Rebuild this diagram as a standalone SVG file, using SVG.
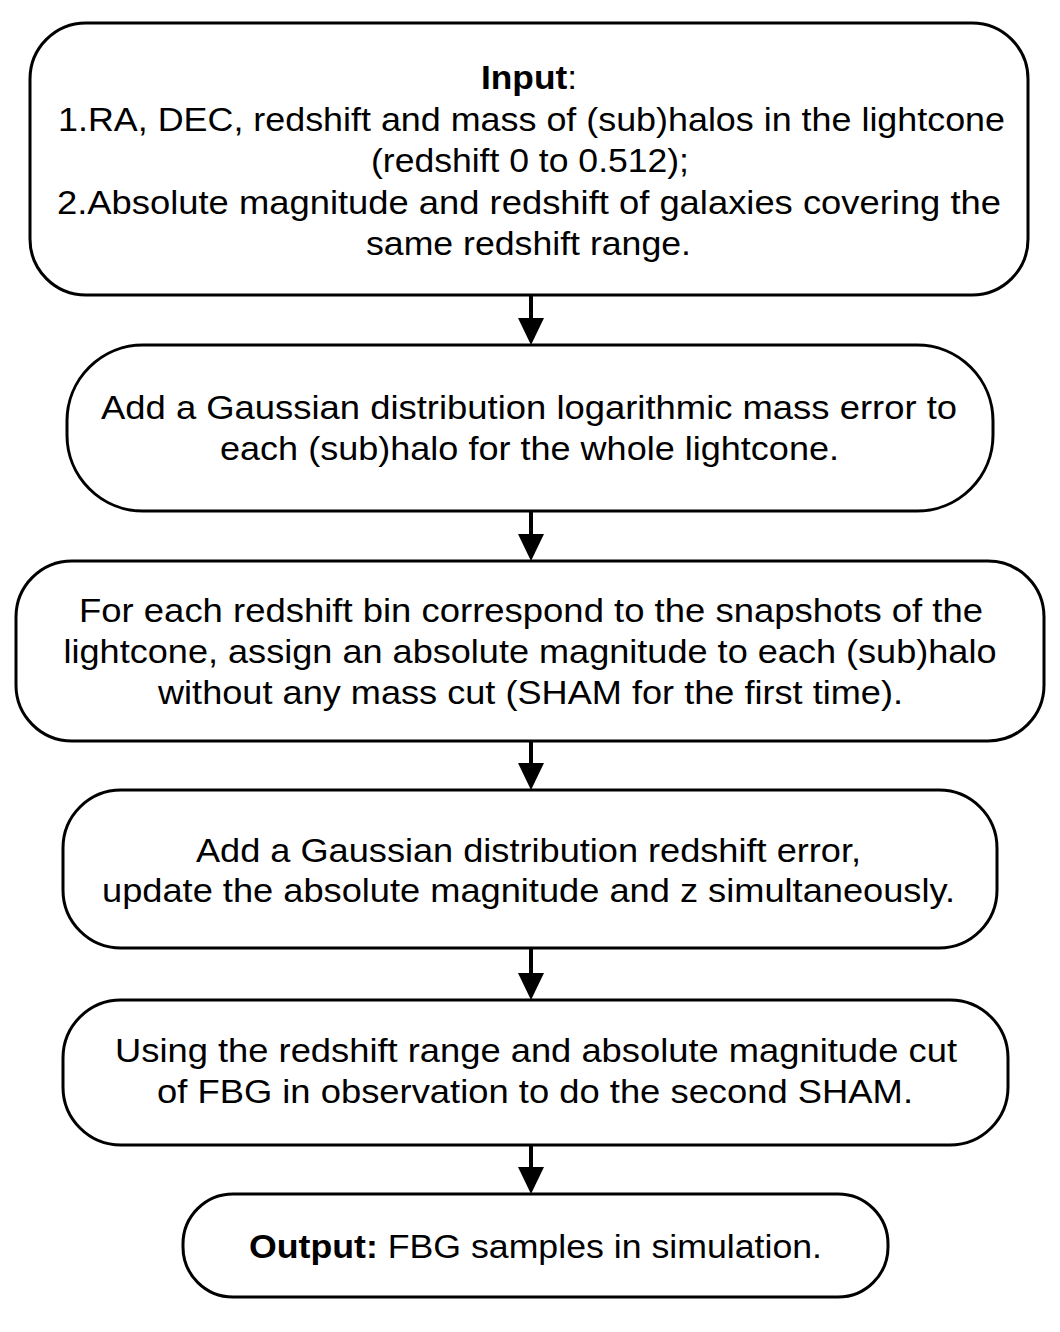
<svg xmlns="http://www.w3.org/2000/svg" width="1060" height="1332" viewBox="0 0 1060 1332">
  <defs>
    <style>
      .box { fill: #ffffff; stroke: #000000; stroke-width: 3; }
      .t { font-family: "Liberation Sans", Arial, Helvetica, sans-serif; font-size: 33px; fill: #000000; text-anchor: middle; }
      .b { font-weight: bold; }
      .conn { stroke: #000000; stroke-width: 4; fill: none; }
      .head { fill: #000000; stroke: none; }
    </style>
  </defs>
  <rect x="0" y="0" width="1060" height="1332" fill="#ffffff"/>

  <g id="n1">
    <rect class="box" x="30" y="23" width="998" height="272" rx="56" ry="56"/>
    <text class="t" x="529" y="89" textLength="96" lengthAdjust="spacingAndGlyphs"><tspan class="b">Input</tspan>:</text>
    <text class="t" x="531.5" y="131" textLength="947" lengthAdjust="spacingAndGlyphs">1.RA, DEC, redshift and mass of (sub)halos in the lightcone</text>
    <text class="t" x="530" y="172" textLength="318" lengthAdjust="spacingAndGlyphs">(redshift 0 to 0.512);</text>
    <text class="t" x="529" y="214" textLength="944" lengthAdjust="spacingAndGlyphs">2.Absolute magnitude and redshift of galaxies covering the</text>
    <text class="t" x="528.5" y="255" textLength="325" lengthAdjust="spacingAndGlyphs">same redshift range.</text>
  </g>

  <g id="n2">
    <rect class="box" x="67" y="345" width="926" height="166" rx="76" ry="76"/>
    <text class="t" x="529" y="419" textLength="856" lengthAdjust="spacingAndGlyphs">Add a Gaussian distribution logarithmic mass error to</text>
    <text class="t" x="529.5" y="460" textLength="619" lengthAdjust="spacingAndGlyphs">each (sub)halo for the whole lightcone.</text>
  </g>

  <g id="n3">
    <rect class="box" x="16" y="561" width="1028" height="180" rx="56" ry="56"/>
    <text class="t" x="531" y="622" textLength="904" lengthAdjust="spacingAndGlyphs">For each redshift bin correspond to the snapshots of the</text>
    <text class="t" x="530" y="663" textLength="933" lengthAdjust="spacingAndGlyphs">lightcone, assign an absolute magnitude to each (sub)halo</text>
    <text class="t" x="530.5" y="704" textLength="745" lengthAdjust="spacingAndGlyphs">without any mass cut (SHAM for the first time).</text>
  </g>

  <g id="n4">
    <rect class="box" x="63" y="790" width="934" height="158" rx="58" ry="58"/>
    <text class="t" x="528.5" y="862" textLength="665" lengthAdjust="spacingAndGlyphs">Add a Gaussian distribution redshift error,</text>
    <text class="t" x="528.5" y="902" textLength="853" lengthAdjust="spacingAndGlyphs">update the absolute magnitude and z simultaneously.</text>
  </g>

  <g id="n5">
    <rect class="box" x="63" y="1000" width="945" height="145" rx="58" ry="58"/>
    <text class="t" x="536" y="1062" textLength="842" lengthAdjust="spacingAndGlyphs">Using the redshift range and absolute magnitude cut</text>
    <text class="t" x="535" y="1103" textLength="756" lengthAdjust="spacingAndGlyphs">of FBG in observation to do the second SHAM.</text>
  </g>

  <g id="n6">
    <rect class="box" x="183" y="1194" width="705" height="103" rx="50" ry="50"/>
    <text class="t" x="535.5" y="1258" textLength="573" lengthAdjust="spacingAndGlyphs"><tspan class="b">Output:</tspan> FBG samples in simulation.</text>
  </g>

  <g id="connectors">
    <line class="conn" x1="531" y1="295" x2="531" y2="320"/>
    <polygon class="head" points="518,318 544,318 531,345"/>
    <line class="conn" x1="531" y1="511" x2="531" y2="536"/>
    <polygon class="head" points="518,534 544,534 531,561"/>
    <line class="conn" x1="531" y1="741" x2="531" y2="765"/>
    <polygon class="head" points="518,763 544,763 531,790"/>
    <line class="conn" x1="531" y1="948" x2="531" y2="975"/>
    <polygon class="head" points="518,973 544,973 531,1000"/>
    <line class="conn" x1="531" y1="1145" x2="531" y2="1169"/>
    <polygon class="head" points="518,1167 544,1167 531,1194"/>
  </g>
</svg>
